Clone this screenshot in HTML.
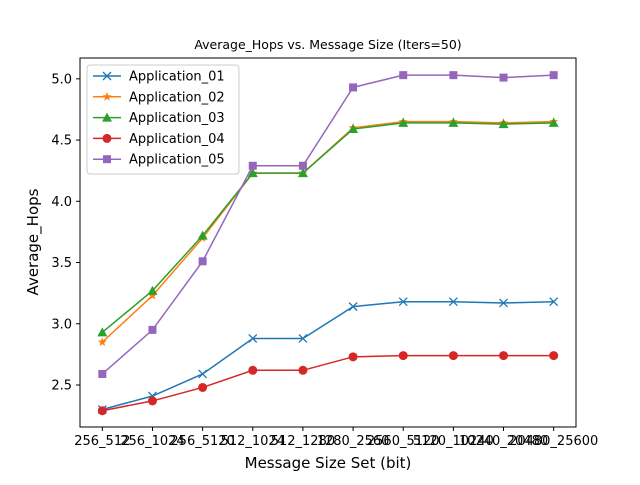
<!DOCTYPE html>
<html><head><meta charset="utf-8"><style>
body{margin:0;background:#fff;font-family:"Liberation Sans","DejaVu Sans",sans-serif}
svg text{font-family:"DejaVu Sans","Liberation Sans",sans-serif}
</style></head><body>
<svg id="chart" width="640" height="480" xmlns="http://www.w3.org/2000/svg">
<rect width="640" height="480" fill="#fff"/>
<text x="328" y="49" font-size="12.5" text-anchor="middle">Average_Hops vs. Message Size (Iters=50)</text>
<g id="plot"></g>
<rect x="80" y="58" width="496" height="369" fill="none" stroke="#000" stroke-width="1"/>
<text x="328" y="468" font-size="15" text-anchor="middle">Message Size Set (bit)</text>
<text transform="translate(38,242) rotate(-90)" font-size="15" text-anchor="middle">Average_Hops</text>
</svg>
<script>
const categories=["256_512","256_1024","256_5120","512_1024","512_1280","1280_2560","2560_5120","5120_10240","10240_20480","20480_25600"];
const app01=[2.30,2.41,2.59,2.88,2.88,3.14,3.18,3.18,3.17,3.18];
const app02=[2.85,3.23,3.70,4.23,4.23,4.60,4.65,4.65,4.64,4.65];
const app03=[2.93,3.27,3.72,4.23,4.23,4.59,4.64,4.64,4.63,4.64];
const app04=[2.29,2.37,2.48,2.62,2.62,2.73,2.74,2.74,2.74,2.74];
const app05=[2.59,2.95,3.51,4.29,4.29,4.93,5.03,5.03,5.01,5.03];
const yTicks=[2.5,3.0,3.5,4.0,4.5,5.0];
const seriesNames=["Application_01","Application_02","Application_03","Application_04","Application_05"];
const NS="http://www.w3.org/2000/svg";
const g=document.getElementById('plot');
const X0=80,X1=576,Y0=58,Y1=427,ymin=2.157,ymax=5.17;
function xs(i){const pad=(X1-X0)*0.045;return X0+pad+i*(X1-X0-2*pad)/(categories.length-1);}
function ys(v){return Y1-(v-ymin)/(ymax-ymin)*(Y1-Y0);}
function mk(t,a){const e=document.createElementNS(NS,t);for(const k in a)e.setAttribute(k,a[k]);return e;}
yTicks.forEach(v=>{
 const l=mk('line',{x1:X0-4,x2:X0,y1:ys(v),y2:ys(v),stroke:'#000'});
 
 
 g.appendChild(l);
 const t=mk('text',{x:X0-8,y:ys(v)+4.5,'font-size':13,'text-anchor':'end'});
 
 
 t.textContent=v.toFixed(1);g.appendChild(t);
});
categories.forEach((c,i)=>{
 const l=mk('line',{x1:xs(i),x2:xs(i),y1:Y1,y2:Y1+4,stroke:'#000'});
 
 
 g.appendChild(l);
 const t=mk('text',{x:xs(i),y:Y1+18,'font-size':13,'text-anchor':'middle'});
 
 
 t.textContent=c;g.appendChild(t);
});
const colors=['#1f77b4','#ff7f0e','#2ca02c','#d62728','#9467bd'];
const data=[app01,app02,app03,app04,app05];
const markers=['x','star','tri','circle','square'];
function marker(type,x,y,col){
 if(type==='x')return mk('path',{d:`M${x-4},${y-4}L${x+4},${y+4}M${x-4},${y+4}L${x+4},${y-4}`,stroke:col,'stroke-width':1.3,fill:'none'});
 if(type==='circle')return mk('circle',{cx:x,cy:y,r:4.5,fill:col});
 if(type==='square')return mk('rect',{x:x-4,y:y-4,width:8,height:8,fill:col});
 if(type==='tri')return mk('path',{d:`M${x},${y-5}L${x+5},${y+4}L${x-5},${y+4}Z`,fill:col});
 let p='';for(let k=0;k<10;k++){const r=k%2?2:4.8,a=-Math.PI/2+k*Math.PI/5;p+=(k?'L':'M')+(x+r*Math.cos(a)).toFixed(1)+','+(y+r*Math.sin(a)).toFixed(1);}
 return mk('path',{d:p+'Z',fill:col});
}
data.forEach((arr,s)=>{
 const pl=mk('polyline',{points:arr.map((v,i)=>xs(i)+','+ys(v)).join(' '),fill:'none',stroke:colors[s],'stroke-width':1.5});
 
 
 g.appendChild(pl);
 arr.forEach((v,i)=>{const m=marker(markers[s],xs(i),ys(v),colors[s]);
  
  
  g.appendChild(m);});
});
const lg=mk('g',{});


lg.appendChild(mk('rect',{x:87,y:65,width:152,height:109,rx:3,fill:'#fff',stroke:'#ccc'}));
seriesNames.forEach((n,s)=>{
 const y=76+s*20.8;
 const e=mk('g',{});
 
 
 e.appendChild(mk('line',{x1:93,x2:121,y1:y,y2:y,stroke:colors[s],'stroke-width':1.5}));
 e.appendChild(marker(markers[s],107,y,colors[s]));
 const t=mk('text',{x:129,y:y+4.5,'font-size':13});t.textContent=n;e.appendChild(t);
 lg.appendChild(e);
});
g.appendChild(lg);
</script>
</body></html>
